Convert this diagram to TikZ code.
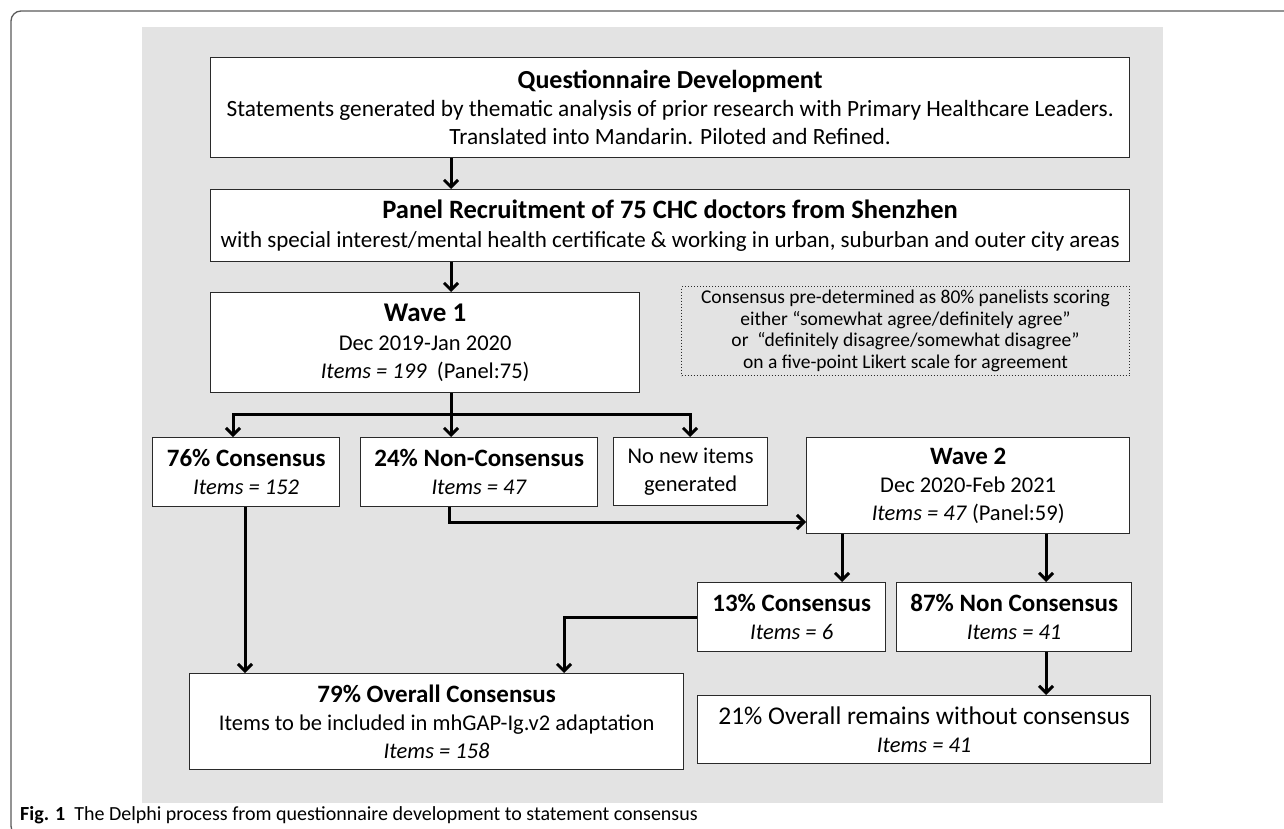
\documentclass[tikz,border=0pt]{standalone}
\usepackage{fontspec}
\setmainfont{Carlito}
\usetikzlibrary{arrows.meta}
\definecolor{bgc}{HTML}{E3E3E3}
\definecolor{boxc}{HTML}{2A2A2A}
\definecolor{framec}{HTML}{5A5A5A}
\tikzset{
  box/.style={draw=boxc, line width=1.3pt, fill=white, inner sep=0pt, align=center, anchor=north west,
              font=\fontsize{22.5}{28}\selectfont},
  bigbox/.style={box, font=\fontsize{23}{28}\selectfont},
  dotbox/.style={draw=boxc, line width=1pt, dotted, inner sep=0pt, align=center, anchor=north west,
              font=\fontsize{19.5}{21.5}\selectfont},
  arr/.style={draw=black, line width=3pt, -{Straight Barb[length=7pt,width=14pt]}},
}
\newcommand{\ttlf}{\fontsize{25}{30}\selectfont\bfseries}
\newcommand{\ttlbig}{\fontsize{27}{30}\selectfont\bfseries}
\begin{document}
\begin{tikzpicture}[x=1pt,y=-1pt]
\useasboundingbox (0,0) rectangle (1284,829);
\begin{scope}
  \clip (0,0) rectangle (1284,829);
  \draw[framec, line width=1.3pt, rounded corners=10pt] (11,11) rectangle (1320,836);
\end{scope}
\fill[bgc] (142,27) rectangle (1163,803);

% boxes
\node[bigbox, minimum width=919pt, minimum height=100pt] (qd) at (210,57)
  {{\fontsize{26}{30}\selectfont\bfseries Questionnaire Development}\\
   {\fontsize{23.3}{28}\selectfont Statements generated by thematic analysis of prior research with Primary Healthcare Leaders.}\\
   {\fontsize{23.3}{28}\selectfont Translated into Mandarin. Piloted and Refined.}};
\node[bigbox, minimum width=919pt, minimum height=72pt] (pr) at (210,189)
  {{\fontsize{26.5}{30}\selectfont\bfseries Panel Recruitment of 75 CHC doctors from Shenzhen}\\[1pt]
   with special interest/mental health certificate \& working in urban, suburban and outer city areas};
\node[box, minimum width=429pt, minimum height=100pt] (w1) at (210,292)
  {{\ttlbig Wave 1}\\[1pt]
   Dec 2019-Jan 2020\\
   \textit{Items = 199}\ \ (Panel:75)};
\node[dotbox, minimum width=448pt, minimum height=89pt] (cn) at (681,286)
  {Consensus pre-determined as 80\% panelists scoring\\
   either “somewhat agree/definitely agree”\\
   or\ \ “definitely disagree/somewhat disagree”\\
   on a five-point Likert scale for agreement};
\node[box, minimum width=187pt, minimum height=69pt] (c76) at (152,437)
  {{\ttlf 76\% Consensus}\\ \textit{Items = 152}};
\node[box, minimum width=237pt, minimum height=69pt] (n24) at (360,437)
  {{\ttlf 24\% Non-Consensus}\\ \textit{Items = 47}};
\node[box, minimum width=154pt, minimum height=68pt] (nn) at (613,437)
  {No new items\\ generated};
\node[box, minimum width=323pt, minimum height=96pt] (w2) at (806,437)
  {{\ttlf Wave 2}\\
   Dec 2020-Feb 2021\\
   \textit{Items = 47} (Panel:59)};
\node[box, minimum width=188pt, minimum height=69pt] (c13) at (697,582)
  {{\ttlf 13\% Consensus}\\ \textit{Items = 6}};
\node[box, minimum width=235pt, minimum height=69pt] (n87) at (896,582)
  {{\ttlf 87\% Non Consensus}\\ \textit{Items = 41}};
\node[box, minimum width=494pt, minimum height=96pt] (o79) at (189,673)
  {{\ttlf 79\% Overall Consensus}\\
   Items to be included in mhGAP-Ig.v2 adaptation\\
   \textit{Items = 158}};
\node[box, minimum width=453pt, minimum height=68pt] (o21) at (697,695)
  {{\fontsize{25.5}{30}\selectfont 21\% Overall remains without consensus}\\ \textit{Items = 41}};

% helper coordinates
\coordinate (xa) at (451,0);
\coordinate (br) at (451,414);
\coordinate (bl) at (233,414);
\coordinate (bx) at (690,414);
\coordinate (x76) at (245,0);
\coordinate (p1) at (449,522);
\coordinate (xw2a) at (842,0);
\coordinate (xw2b) at (1046,0);
\coordinate (p2) at (564,617);

% connectors
\draw[arr] (qd.south -| xa) -- (pr.north -| xa);
\draw[arr] (pr.south -| xa) -- (w1.north -| xa);
\draw[arr] (w1.south -| xa) -- (br) -| (c76.north -| bl);
\draw[arr] (br) -- (n24.north -| br);
\draw[arr] (br) -| (nn.north -| bx);
\draw[arr] (c76.south -| x76) -- (o79.north -| x76);
\draw[arr] (n24.south -| p1) |- (w2.west |- p1);
\draw[arr] (w2.south -| xw2a) -- (c13.north -| xw2a);
\draw[arr] (w2.south -| xw2b) -- (n87.north -| xw2b);
\draw[arr] (c13.west |- p2) -| (o79.north -| p2);
\draw[arr] (n87.south -| xw2b) -- (o21.north -| xw2b);

% caption
\node[anchor=base west, inner sep=0pt, font=\fontsize{20}{24}\selectfont] (cap) at (20,820)
  {\textbf{Fig. 1}\ \ The Delphi process from questionnaire development to statement consensus};
\end{tikzpicture}
\end{document}
